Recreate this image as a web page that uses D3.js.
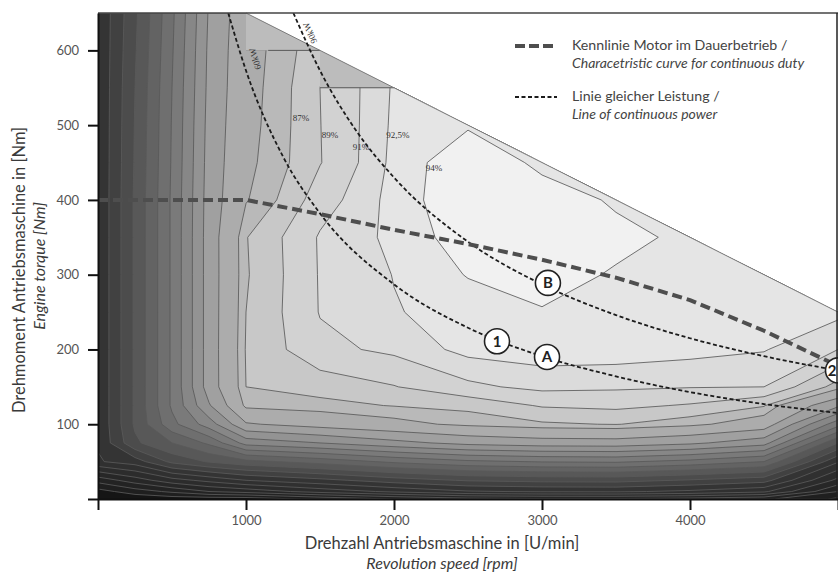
<!DOCTYPE html>
<html>
<head>
<meta charset="utf-8">
<script src="https://cdn.jsdelivr.net/npm/d3@7"></script>
<style>
  body { margin: 0; background: #fff; }
  svg { display: block; }
  text { font-family: Lato, "Open Sans", sans-serif; }
</style>
</head>
<body>
<svg id="chart" width="838" height="572"></svg>
<script>
// grid of the efficiency map (rpm columns, Nm rows)
const speeds = [0, 250, 500, 750, 1000, 1500, 2000, 2500, 3000, 3500, 4000, 4500, 5000];
const torques = [0, 10, 25, 50, 75, 100, 125, 150, 200, 250, 300, 350, 400, 450, 500, 550, 600, 650];
// efficiency in %, one row per torque value
const efficiency = [
  [0, 1, 2, 2, 2, 6, 10, 13, 14, 14, 13, 11, 4],
  [3, 7.5, 11, 15, 17, 22, 26, 29.5, 30.5, 30.7, 29, 26, 10],
  [12, 17.5, 23, 26.5, 30, 33.5, 37.5, 40.5, 41.5, 41.7, 39.5, 37, 18.5],
  [29.5, 32.5, 41.3, 45.5, 48.5, 52, 56, 59, 60.3, 60.7, 58.5, 55, 30.5],
  [30.5, 44, 50, 56, 67, 70, 73.5, 76.5, 77.8, 78, 76, 72, 45],
  [30.5, 45.8, 58.5, 67.5, 79.5, 82, 84, 85.7, 86.7, 87.1, 85.8, 83, 62],
  [30.5, 45.8, 60.8, 74.5, 85.8, 86.4, 87.1, 87.6, 89.2, 89.5, 88.8, 87.2, 76],
  [30.5, 45.8, 60.8, 77.5, 87, 87.8, 88.9, 90.6, 91.5, 91.3, 91.1, 91, 86.2],
  [30.5, 45.8, 60.8, 77.5, 87.2, 90.5, 91.4, 93.0, 93.3, 93.3, 93.0, 92.6, 91],
  [30.5, 45.8, 60.8, 77.5, 87.0, 91.1, 92.4, 93.1, 93.9, 93.55, 93.0, 92.9, 92.9],
  [30.5, 45.8, 60.8, 77.5, 86.8, 91.15, 92.55, 94.1, 94.6, 93.85, 93.3, 93.1, 92.8],
  [30.5, 45.8, 60.8, 77.5, 86.9, 91.2, 92.88, 94.9, 95.0, 94.4, 93.7, 93, 92.8],
  [30.5, 45.8, 60.8, 77.3, 84.8, 90.1, 93.07, 95.4, 94.8, 93.8, 93, 93, 92.8],
  [30.5, 45.5, 60.5, 77, 84.3, 88.9, 92.94, 95.3, 93.6, 93, 93, 93, 92.8],
  [30.5, 45.3, 60.3, 76.7, 84, 88.95, 92.8, 93.8, 93, 93, 93, 93, 92.8],
  [30.5, 45, 60, 76.3, 83.8, 89, 92.7, 92.6, 92.6, 92.6, 92.6, 92.6, 92.6],
  [30.5, 44.5, 59.5, 76, 83.7, 88.5, 92.4, 92.4, 92.4, 92.4, 92.4, 92.4, 92.4],
  [30.5, 44, 59, 75.5, 83.5, 88.5, 92.4, 92.4, 92.4, 92.4, 92.4, 92.4, 92.4]
];
const levels = [5, 10, 15, 20, 25, 30, 35, 40, 45, 50, 55, 60, 65, 70, 75, 80, 85, 87, 89, 91, 92.5, 94];

// max torque and the stepped limit of the measured area
const envelope = [[1000, 650], [5000, 250]];
const dataLimit = [[1000, 650], [1000, 600], [1500, 600], [1500, 550], [2000, 550], [2000, 650]];
const limitSteps = [[[1150, 600], [1500, 600]], [[1500, 550], [2000, 550]]];

// characteristic curve for continuous duty
const continuousDuty = [[0, 400], [1000, 400], [1500, 381], [2000, 360], [2500, 341], [3000, 320],
  [3500, 296], [4000, 266], [4500, 225], [5000, 178]];
// lines of constant power
const power60 = [[880, 650], [1000, 573], [1250, 458], [1500, 382], [2000, 287], [2500, 229],
  [3000, 191], [3500, 164], [4000, 143], [4500, 127], [5000, 115]];
const power90 = [[1320, 650], [1500, 573], [1750, 491], [2000, 430], [2500, 344], [3000, 287],
  [3500, 246], [4000, 215], [4500, 191], [5000, 172]];

const markers = [
  {label: "1", rpm: 2696, nm: 211},
  {label: "A", rpm: 3034, nm: 190},
  {label: "B", rpm: 3040, nm: 289},
  {label: "2", rpm: 5000, nm: 172}
];
const effLabels = [
  {text: "87%", rpm: 1372, nm: 508},
  {text: "89%", rpm: 1568, nm: 485},
  {text: "91%", rpm: 1777, nm: 470},
  {text: "92,5%", rpm: 2027, nm: 486},
  {text: "94%", rpm: 2270, nm: 442}
];
const powerLabels = [
  {text: "60kW", rpm: 1068, nm: 589, angle: -107},
  {text: "90kW", rpm: 1439, nm: 624, angle: -114}
];
const xTicks = [0, 1000, 2000, 3000, 4000, 5000];
const yTicks = [0, 100, 200, 300, 400, 500, 600];

const W = 838;
const svg = d3.select("#chart");
const x = d3.scaleLinear().domain([0, 5000]).range([98, 838]);
const y = d3.scaleLinear().domain([0, 650]).range([499, 13]);

const shade = d3.scaleLinear()
  .domain([0, 5, 30, 35, 60, 85, 87, 89, 91, 92.5, 94])
  .range(["#151515", "#1f1f1f", "#343434", "#414141", "#7a7a7a", "#b9b9b9",
          "#c8c8c8", "#d2d2d2", "#dbdbdb", "#e5e5e5", "#f1f1f1"]);

const line = d3.line().x(d => x(d[0])).y(d => y(d[1]));

// clip paths: below max torque, and inside measured area
const defs = svg.append("defs");
defs.append("clipPath").attr("id", "env")
  .append("path")
  .attr("d", line([[0, 0], [0, 650], ...envelope, [5000, 0]]) + "Z");
defs.append("clipPath").attr("id", "meas")
  .append("path")
  .attr("d", line([[0, 0], [0, 650], ...dataLimit, [5000, 650], [5000, 0]]) + "Z");
defs.append("clipPath").attr("id", "plot")
  .append("rect").attr("x", 98).attr("y", 13).attr("width", 740).attr("height", 486);

const map = svg.append("g").attr("clip-path", "url(#env)");
map.append("rect")
  .attr("x", 98).attr("y", 13).attr("width", 740).attr("height", 486)
  .attr("fill", "#bcbcbc");

const bands = map.append("g").attr("clip-path", "url(#meas)");
bands.append("rect")
  .attr("x", 98).attr("y", 13).attr("width", 740).attr("height", 486)
  .attr("fill", shade(0));

// contour grid index -> rpm / Nm (piecewise linear between grid nodes)
const n = speeds.length, m = torques.length;
const colToRpm = d3.scaleLinear().domain(d3.range(n)).range(speeds).clamp(true);
const rowToNm = d3.scaleLinear().domain(d3.range(m)).range(torques).clamp(true);
const gridProj = d3.geoTransform({
  point(px, py) { this.stream.point(x(colToRpm(px - 0.5)), y(rowToNm(py - 0.5))); }
});
const contourPath = d3.geoPath(gridProj);

const contours = d3.contours()
  .size([n, m])
  .thresholds(levels)(efficiency.flat());

bands.selectAll("path.band")
  .data(contours)
  .enter().append("path")
  .attr("class", "band")
  .attr("d", contourPath)
  .attr("fill", d => shade(d.value))
  .attr("stroke", "#5a5a5a")
  .attr("stroke-width", 0.85);

// steps of the measured area and max torque line
limitSteps.forEach(s => {
  svg.append("path").attr("d", line(s))
    .attr("fill", "none").attr("stroke", "#5a5a5a").attr("stroke-width", 1);
});
svg.append("path").attr("d", line(envelope))
  .attr("fill", "none").attr("stroke", "#7a7a7a").attr("stroke-width", 1);

// efficiency labels
svg.selectAll("text.eff")
  .data(effLabels)
  .enter().append("text")
  .attr("class", "eff")
  .attr("x", d => x(d.rpm)).attr("y", d => y(d.nm))
  .attr("text-anchor", "middle").attr("dominant-baseline", "middle")
  .style("font-family", "'Liberation Serif', serif")
  .style("font-size", "9px")
  .attr("fill", "#333")
  .text(d => d.text);

// curves
const curves = svg.append("g").attr("clip-path", "url(#plot)");
const smooth = d3.line().x(d => x(d[0])).y(d => y(d[1])).curve(d3.curveMonotoneX);
[power60, power90].forEach(p => {
  curves.append("path").attr("d", smooth(p))
    .attr("fill", "none").attr("stroke", "#1c1c1c")
    .attr("stroke-width", 1.8).attr("stroke-dasharray", "4,2.5");
});
curves.append("path").attr("d", line(continuousDuty))
  .attr("fill", "none").attr("stroke", "#4e4e4e")
  .attr("stroke-width", 4).attr("stroke-dasharray", "10,5");

svg.selectAll("text.pow")
  .data(powerLabels)
  .enter().append("text")
  .attr("class", "pow")
  .attr("transform", d => `translate(${x(d.rpm)},${y(d.nm)}) rotate(${d.angle})`)
  .attr("text-anchor", "middle").attr("dominant-baseline", "middle")
  .style("font-family", "'Liberation Serif', serif")
  .style("font-size", "9px")
  .attr("fill", "#333")
  .text(d => d.text);

// marker circles (the one on the right border keeps its digit inside the page)
const mk = svg.selectAll("g.mk")
  .data(markers)
  .enter().append("g")
  .attr("class", "mk")
  .attr("transform", d => `translate(${x(d.rpm)},${y(d.nm)})`);
mk.append("circle").attr("r", 12.5)
  .attr("fill", "#fff").attr("stroke", "#222").attr("stroke-width", 1.6);
mk.append("text")
  .attr("text-anchor", "middle").attr("dy", "0.36em")
  .attr("dx", d => Math.min(0, W - 6 - x(d.rpm)))
  .style("font-size", "15px").style("font-weight", "bold")
  .attr("fill", "#222")
  .text(d => d.label);

// frame
svg.append("line").attr("x1", 98).attr("x2", 838).attr("y1", 13).attr("y2", 13)
  .attr("stroke", "#444").attr("stroke-width", 1.5);
svg.append("line").attr("x1", 837).attr("x2", 837).attr("y1", 13).attr("y2", 499)
  .attr("stroke", "#222").attr("stroke-width", 1.5);

// axes
const yAxis = svg.append("g")
  .attr("transform", "translate(98,0)")
  .call(d3.axisLeft(y).tickValues(yTicks).tickFormat(d => d === 0 ? "" : d)
    .tickSize(10).tickSizeOuter(0).tickPadding(9));
const xAxis = svg.append("g")
  .attr("transform", "translate(0,499)")
  .call(d3.axisBottom(x).tickValues(xTicks).tickFormat(d => (d === 0 || d === 5000) ? "" : d)
    .tickSize(11).tickSizeOuter(0).tickPadding(6));
[yAxis, xAxis].forEach(a => {
  a.select(".domain").attr("stroke", "#111").attr("stroke-width", 2);
  a.selectAll(".tick line").attr("stroke", "#111").attr("stroke-width", 2);
  a.selectAll(".tick text").attr("fill", "#555").style("font-size", "13px")
    .style("font-family", "Lato, sans-serif");
});

// axis titles
svg.append("text").attr("x", 442).attr("y", 545)
  .attr("text-anchor", "middle").attr("dominant-baseline", "middle")
  .style("font-size", "16.5px").attr("fill", "#3a3a3a")
  .text("Drehzahl Antriebsmaschine in [U/min]");
svg.append("text").attr("x", 442).attr("y", 565)
  .attr("text-anchor", "middle").attr("dominant-baseline", "middle")
  .style("font-size", "16px").style("font-style", "italic").attr("fill", "#3a3a3a")
  .text("Revolution speed [rpm]");
svg.append("text").attr("transform", "translate(21,270) rotate(-90)")
  .attr("text-anchor", "middle").attr("dominant-baseline", "middle")
  .style("font-size", "16.5px").attr("fill", "#3a3a3a")
  .text("Drehmoment  Antriebsmaschine in [Nm]");
svg.append("text").attr("transform", "translate(41,266) rotate(-90)")
  .attr("text-anchor", "middle").attr("dominant-baseline", "middle")
  .style("font-size", "16px").style("font-style", "italic").attr("fill", "#3a3a3a")
  .text("Engine torque [Nm]");

// legend
const legend = svg.append("g").attr("class", "legend");
const legendItems = [
  {width: 4, dash: "10,4", color: "#4e4e4e", de: "Kennlinie Motor im Dauerbetrieb /",
   en: "Characetristic curve for continuous duty", y: 46},
  {width: 1.8, dash: "4,2.5", color: "#1c1c1c", de: "Linie gleicher Leistung /",
   en: "Line of continuous power", y: 97}
];
legendItems.forEach(it => {
  legend.append("line").attr("x1", 515).attr("x2", 557).attr("y1", it.y).attr("y2", it.y)
    .attr("stroke", it.color).attr("stroke-width", it.width).attr("stroke-dasharray", it.dash);
  legend.append("text").attr("x", 572).attr("y", it.y)
    .attr("dominant-baseline", "middle").style("font-size", "14.2px").attr("fill", "#444")
    .text(it.de);
  legend.append("text").attr("x", 572).attr("y", it.y + 18)
    .attr("dominant-baseline", "middle").style("font-size", "14px")
    .style("font-style", "italic").attr("fill", "#444")
    .text(it.en);
});
</script>
</body>
</html>
